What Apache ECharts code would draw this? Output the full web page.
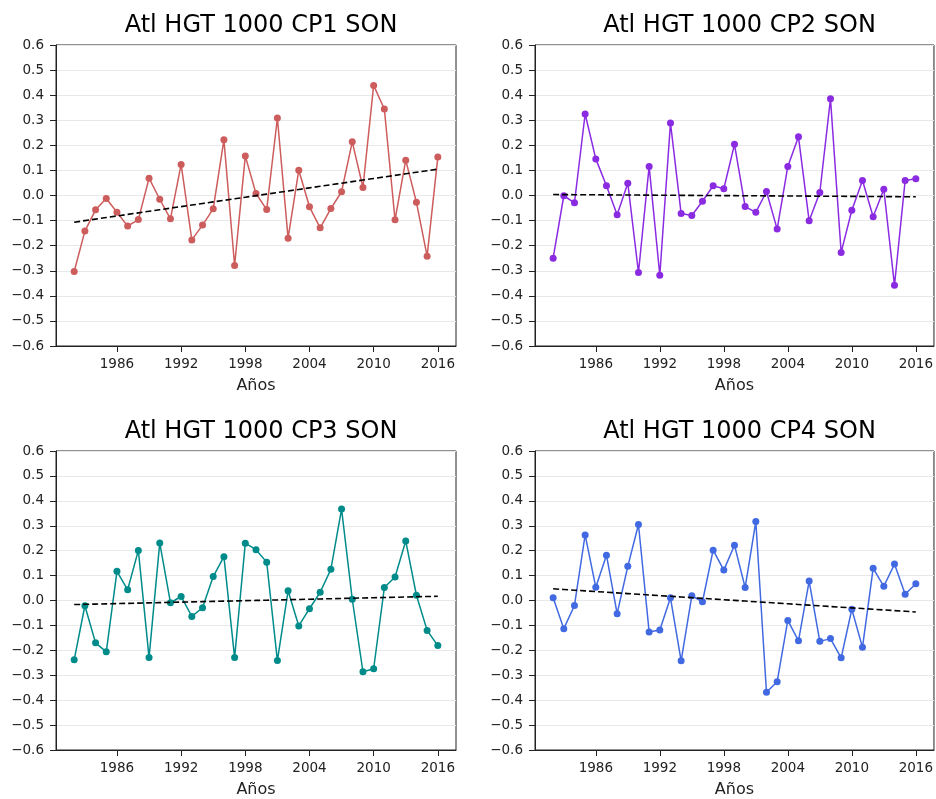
<!DOCTYPE html>
<html>
<head>
<meta charset="utf-8">
<script src="https://cdn.jsdelivr.net/npm/echarts@6/dist/echarts.min.js"></script>
<style>html,body{margin:0;padding:0;background:#fff}#c{width:936px;height:799px}</style>
</head>
<body>
<div id="c"></div>
<script>
const years = [];
for (let y = 1982; y <= 2016; y++) years.push(y);
const xTicks = [1986, 1992, 1998, 2004, 2010, 2016];
const titles = ["Atl HGT 1000 CP1 SON", "Atl HGT 1000 CP2 SON", "Atl HGT 1000 CP3 SON", "Atl HGT 1000 CP4 SON"];
const colors = ["#cd5c5c", "#8a2be2", "#008b8b", "#4169e1"];
const cp1 = [-0.303,-0.142,-0.057,-0.012,-0.067,-0.122,-0.096,0.069,-0.015,-0.093,0.124,-0.177,-0.118,-0.053,0.222,-0.279,0.157,0.008,-0.056,0.309,-0.170,0.101,-0.045,-0.129,-0.052,0.015,0.214,0.032,0.439,0.345,-0.097,0.141,-0.027,-0.242,0.153];
const cp2 = [-0.250,-0.001,-0.029,0.325,0.146,0.039,-0.077,0.049,-0.307,0.116,-0.318,0.289,-0.072,-0.080,-0.023,0.039,0.027,0.204,-0.044,-0.067,0.016,-0.134,0.116,0.234,-0.101,0.012,0.386,-0.227,-0.059,0.060,-0.085,0.025,-0.358,0.060,0.067];
const cp3 = [-0.238,-0.021,-0.170,-0.206,0.117,0.043,0.201,-0.229,0.231,-0.009,0.016,-0.064,-0.029,0.096,0.176,-0.229,0.230,0.204,0.154,-0.241,0.039,-0.102,-0.033,0.033,0.125,0.367,0.005,-0.286,-0.274,0.052,0.094,0.239,0.021,-0.120,-0.181];
const cp4 = [0.011,-0.113,-0.020,0.263,0.053,0.182,-0.053,0.137,0.305,-0.126,-0.118,0.011,-0.242,0.019,-0.005,0.202,0.122,0.222,0.052,0.317,-0.368,-0.326,-0.080,-0.162,0.078,-0.164,-0.153,-0.230,-0.035,-0.188,0.129,0.057,0.146,0.025,0.067];
const yTicks = [-0.6,-0.5,-0.4,-0.3,-0.2,-0.1,0.0,0.1,0.2,0.3,0.4,0.5,0.6];

const allSeries = [cp1, cp2, cp3, cp4];
const font = "DejaVu Sans";

function linfit(xs, ys) {
  const n = xs.length;
  let mx = 0, my = 0;
  for (let i = 0; i < n; i++) { mx += xs[i]; my += ys[i]; }
  mx /= n; my /= n;
  let sxy = 0, sxx = 0;
  for (let i = 0; i < n; i++) { sxy += (xs[i]-mx)*(ys[i]-my); sxx += (xs[i]-mx)*(xs[i]-mx); }
  const b = sxy / sxx, a = my - b*mx;
  return xs.map(x => [x, a + b*x]);
}

const grids = [
  {left: 56, top: 45, width: 400, height: 301},
  {left: 535, top: 45, width: 399, height: 301},
  {left: 56, top: 451, width: 400, height: 301},
  {left: 535, top: 451, width: 399, height: 301}
];

const fmt = v => { const s = Math.abs(v) < 1e-9 ? "0.0" : v.toFixed(1); return s.replace("-", "\u2212"); };

const option = {
  backgroundColor: "#fff",
  animation: false,
  title: titles.map((t, i) => ({
    text: t,
    left: grids[i].left + grids[i].width / 2,
    top: grids[i].top - 36,
    textAlign: "center",
    textStyle: {fontFamily: font, fontSize: 24, fontWeight: "normal", color: "#000"}
  })),
  grid: grids.map(g => Object.assign({show: true, borderColor: "#222", borderWidth: 1, backgroundColor: "transparent"}, g)),
  xAxis: grids.map((g, i) => ({
    type: "value", gridIndex: i, min: 1980.3, max: 2017.7,
    name: "Años", nameLocation: "middle", nameGap: 32,
    nameTextStyle: {fontFamily: font, fontSize: 16, color: "#222"},
    axisLine: {show: true, onZero: false, lineStyle: {color: "#222", width: 1}},
    axisTick: {show: true, length: 6, inside: false, customValues: xTicks, lineStyle: {color: "#222"}},
    axisLabel: {customValues: xTicks, fontFamily: font, fontSize: 13.5, color: "#222", margin: 11, formatter: v => String(v)},
    splitLine: {show: false}
  })),
  yAxis: grids.map((g, i) => ({
    type: "value", gridIndex: i, min: -0.6, max: 0.6, interval: 0.1,
    axisLine: {show: true, lineStyle: {color: "#222", width: 1}},
    axisTick: {show: true, length: 6, lineStyle: {color: "#222"}},
    axisLabel: {fontFamily: font, fontSize: 13.5, color: "#222", margin: 12, formatter: fmt},
    splitLine: {show: true, lineStyle: {color: "#e8e8e8", width: 1}}
  })),
  series: []
};

allSeries.forEach((vals, i) => {
  option.series.push({
    type: "line", xAxisIndex: i, yAxisIndex: i,
    data: years.map((y, k) => [y, vals[k]]),
    symbol: "circle", symbolSize: 7,
    itemStyle: {color: colors[i]},
    lineStyle: {color: colors[i], width: 1.5},
    z: 2
  });
  option.series.push({
    type: "line", xAxisIndex: i, yAxisIndex: i,
    data: linfit(years, vals),
    symbol: "none",
    lineStyle: {color: "#000", width: 1.6, type: [6, 3]},
    z: 3
  });
});

const chart = echarts.init(document.getElementById("c"), null, {renderer: "canvas"});
chart.setOption(option);
</script>
</body>
</html>
